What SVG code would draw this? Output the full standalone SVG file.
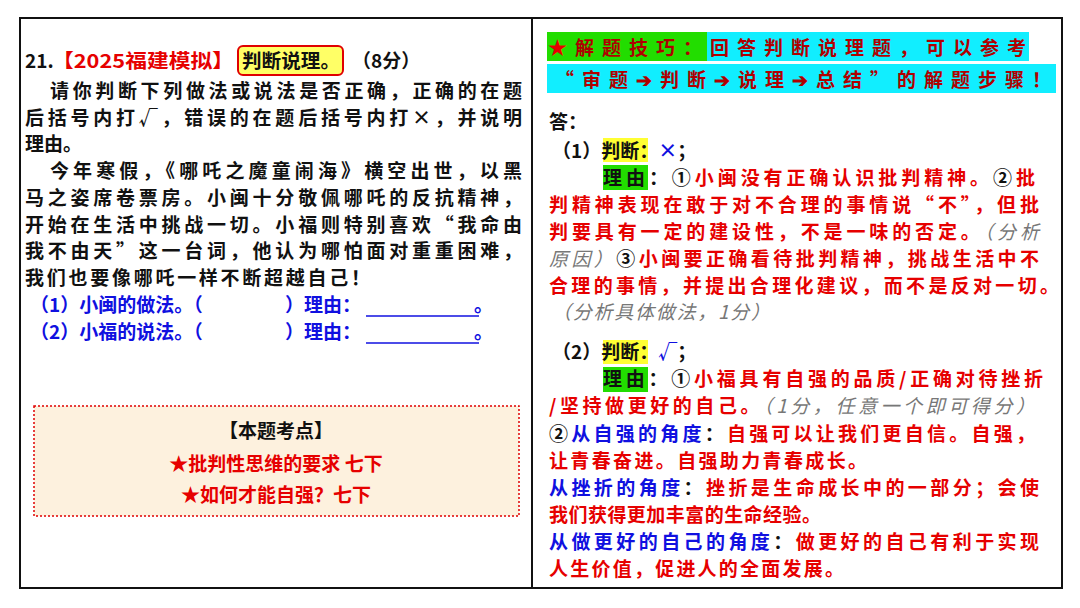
<svg xmlns="http://www.w3.org/2000/svg" width="1080" height="608" viewBox="0 0 1080 608">
<style>
text{font-family:"Noto Sans CJK SC","Liberation Sans",sans-serif;font-weight:bold;font-size:19px;fill:#111}
.r{fill:#e60000}.b{fill:#1010e0}.g{fill:#777;font-style:italic;font-weight:normal}.dr{fill:#b00000}
</style>
<rect x="0" y="0" width="1080" height="608" fill="#fff"/>
<rect x="20" y="18" width="1042" height="570" fill="none" stroke="#111" stroke-width="2"/>
<line x1="532" y1="18" x2="532" y2="588" stroke="#111" stroke-width="2"/>
<g id="question">
<rect x="238" y="46" width="105" height="29" rx="5" fill="#ffff66" stroke="#e00000" stroke-width="2"/>
<text x="25" y="68" font-size="19">21.</text>
<text x="52" y="68" font-size="19" class="r" textLength="182" lengthAdjust="spacingAndGlyphs">【2025福建模拟】</text>
<text x="242" y="68" font-size="19" textLength="98" lengthAdjust="spacingAndGlyphs">判断说理。</text>
<text x="352" y="68" font-size="19">（8分）</text>
<text x="50" y="98" textLength="472" lengthAdjust="spacing">请你判断下列做法或说法是否正确，正确的在题</text>
<text x="25" y="125" textLength="497" lengthAdjust="spacing">后括号内打√，错误的在题后括号内打×，并说明</text>
<text x="25" y="151">理由。</text>
<text x="50" y="178" textLength="472" lengthAdjust="spacing">今年寒假，《哪吒之魔童闹海》横空出世，以黑</text>
<text x="25" y="205" textLength="497" lengthAdjust="spacing">马之姿席卷票房。小闽十分敬佩哪吒的反抗精神，</text>
<text x="25" y="232" textLength="497" lengthAdjust="spacing">开始在生活中挑战一切。小福则特别喜欢“我命由</text>
<text x="25" y="258" textLength="497" lengthAdjust="spacing">我不由天”这一台词，他认为哪怕面对重重困难，</text>
<text x="25" y="285" textLength="345" lengthAdjust="spacing">我们也要像哪吒一样不断超越自己！</text>
<text x="30" y="312" class="b">（1）小闽的做法。（<tspan x="285">）理由：</tspan><tspan x="474">。</tspan></text>
<text x="30" y="339" class="b">（2）小福的说法。（<tspan x="285">）理由：</tspan><tspan x="474">。</tspan></text>
<line x1="366" y1="316" x2="479" y2="316" stroke="#1010e0" stroke-width="1.5"/>
<line x1="366" y1="343" x2="479" y2="343" stroke="#1010e0" stroke-width="1.5"/>
</g>
<g id="keypoints">
<rect x="34" y="406" width="485" height="110" fill="#fdf1de" stroke="#e00000" stroke-width="1.5" stroke-dasharray="2 2"/>
<text x="276" y="438" text-anchor="middle" font-size="25" fill="#1a3ab0">【本题考点】</text>
<text x="276" y="471" text-anchor="middle" font-size="25" class="r">★批判性思维的要求 七下</text>
<text x="276" y="502" text-anchor="middle" font-size="25" class="r">★如何才能自强？七下</text>
</g>
<g id="tip">
<rect x="547" y="32" width="160" height="29" fill="#22dd00"/>
<rect x="707" y="32" width="322" height="29" fill="#11eeff"/>
<rect x="547" y="64" width="509" height="29" fill="#11eeff"/>
<text x="548" y="55" font-size="24" class="dr" textLength="478" lengthAdjust="spacing"><tspan class="r">★</tspan>解题技巧：回答判断说理题，可以参考</text>
<text x="555" y="87" font-size="24" class="dr" textLength="496" lengthAdjust="spacing">“审题➔判断➔说理➔总结”的解题步骤！</text>
</g>
<g id="answer">
<text x="549" y="129" font-size="23">答：</text>
<rect x="603" y="138" width="45" height="24" fill="#ffff33"/>
<text x="552" y="158">（1）判断：<tspan class="b">×</tspan>；</text>
<rect x="603" y="165" width="45" height="25" fill="#22dd00"/>
<text x="603" y="185" textLength="432" lengthAdjust="spacing">理由：①<tspan class="r">小闽没有正确认识批判精神。</tspan>②<tspan class="r">批</tspan></text>
<text x="549" y="212" class="r" textLength="490" lengthAdjust="spacing">判精神表现在敢于对不合理的事情说“不”，但批</text>
<text x="549" y="239" class="r" textLength="490" lengthAdjust="spacing">判要具有一定的建设性，不是一味的否定。<tspan class="g">（分析</tspan></text>
<text x="549" y="266" textLength="490" lengthAdjust="spacing"><tspan class="g">原因）</tspan>③<tspan class="r">小闽要正确看待批判精神，挑战生活中不</tspan></text>
<text x="549" y="293" class="r" textLength="510" lengthAdjust="spacing">合理的事情，并提出合理化建议，而不是反对一切。</text>
<text x="552" y="319" class="g" textLength="218" lengthAdjust="spacing">（分析具体做法，1分）</text>
<rect x="603" y="340" width="45" height="24" fill="#ffff33"/>
<text x="552" y="359">（2）判断：<tspan class="b">√</tspan>；</text>
<rect x="603" y="367" width="45" height="25" fill="#22dd00"/>
<text x="603" y="386" textLength="440" lengthAdjust="spacing">理由：①<tspan class="r">小福具有自强的品质/正确对待挫折</tspan></text>
<text x="549" y="413" class="r" textLength="486" lengthAdjust="spacing">/坚持做更好的自己。<tspan class="g">（1分，任意一个即可得分）</tspan></text>
<text x="549" y="441" textLength="486" lengthAdjust="spacing">②<tspan class="b">从自强的角度</tspan>：<tspan class="r">自强可以让我们更自信。自强，</tspan></text>
<text x="549" y="468" class="r" textLength="318" lengthAdjust="spacing">让青春奋进。自强助力青春成长。</text>
<text x="549" y="495" textLength="490" lengthAdjust="spacing"><tspan class="b">从挫折的角度</tspan>：<tspan class="r">挫折是生命成长中的一部分；会使</tspan></text>
<text x="549" y="522" class="r" textLength="272" lengthAdjust="spacing">我们获得更加丰富的生命经验。</text>
<text x="549" y="549" textLength="490" lengthAdjust="spacing"><tspan class="b">从做更好的自己的角度</tspan>：<tspan class="r">做更好的自己有利于实现</tspan></text>
<text x="549" y="576" class="r" textLength="295" lengthAdjust="spacing">人生价值，促进人的全面发展。</text>
</g>
</svg>
